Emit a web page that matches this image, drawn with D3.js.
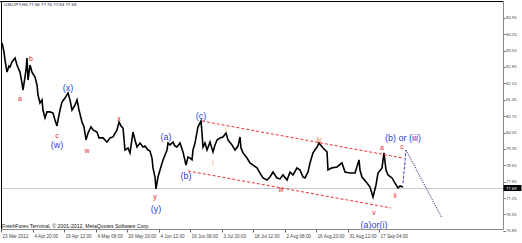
<!DOCTYPE html>
<html>
<head>
<meta charset="utf-8">
<script src="https://cdnjs.cloudflare.com/ajax/libs/d3/7.8.5/d3.min.js"></script>
<style>
  body { margin: 0; background: #fff; }
  svg { display: block; font-family: "Liberation Sans", Arial, sans-serif; }
</style>
</head>
<body>
<div id="chart"></div>
<script>
'use strict';

// H4 bar number counted from 23 Mar 2012, and the close
var bars = [2, 6, 8, 12, 16, 18, 22, 28, 32, 36, 38, 42, 44, 48, 50, 52, 54, 58, 62, 68,
  72, 74, 78, 82, 84, 88, 92, 98, 104, 108, 112, 114, 118, 122, 128, 134, 138, 142, 148, 152,
  156, 162, 166, 170, 174, 180, 184, 192, 196, 204, 212, 218, 224, 232, 236, 240, 244, 248, 254, 258,
  264, 268, 272, 278, 284, 288, 294, 298, 302, 304, 308, 310, 314, 318, 324, 328, 332, 334, 338, 344,
  348, 352, 358, 364, 370, 374, 378, 382, 384, 388, 392, 394, 400, 402, 404, 408, 412, 418, 424, 428,
  432, 438, 444, 450, 454, 462, 468, 474, 478, 480, 484, 492, 498, 504, 512, 518, 524, 532, 538, 544,
  552, 558, 564, 572, 578, 584, 592, 598, 604, 608, 614, 618, 624, 632, 636, 644, 652, 654, 662, 672,
  682, 688, 698, 708, 716, 718, 722, 732, 738, 744, 750, 754, 762, 766, 770, 774, 782, 788, 794, 798, 804];
var closes = [83.87, 83.49, 83.14, 82.63, 82.89, 82.85, 83.06, 83.23, 82.93, 82.72, 82.63, 82.16, 81.86, 82.42, 82.72, 83.23, 82.29, 82.93, 82.63, 82.42,
  82.08, 81.65, 81.31, 81.44, 81.01, 80.67, 80.93, 80.93, 80.88, 80.58, 80.33, 80.58, 81.01, 81.35, 81.52, 81.74, 81.44, 81.01, 81.22, 81.44,
  81.01, 80.50, 80.29, 79.73, 80.03, 80.29, 80.16, 80.07, 79.82, 79.82, 79.64, 79.82, 79.86, 80.16, 80.50, 80.33, 80.24, 79.30, 79.39, 79.18,
  80.07, 79.73, 79.43, 79.60, 79.43, 79.47, 79.30, 79.26, 78.96, 78.54, 78.15, 77.64, 78.15, 78.45, 78.88, 79.09, 79.30, 79.60, 79.52, 79.64,
  79.47, 79.43, 79.60, 79.22, 78.66, 79.00, 78.96, 78.88, 79.30, 79.60, 80.07, 80.29, 80.54, 80.03, 79.43, 79.60, 79.30, 79.64, 79.22, 79.52,
  79.73, 79.82, 79.86, 80.03, 79.73, 79.52, 79.30, 79.47, 79.86, 79.39, 79.18, 78.96, 78.75, 78.66, 78.54, 78.32, 78.11, 78.02, 78.15, 78.36,
  78.11, 78.07, 78.24, 78.02, 78.36, 78.24, 78.54, 78.45, 78.15, 78.11, 78.36, 78.75, 79.18, 79.43, 79.60, 79.39, 79.22, 78.45, 78.54, 78.58,
  78.75, 78.36, 78.32, 78.32, 78.88, 78.45, 78.15, 77.89, 77.72, 77.30, 77.81, 78.32, 78.54, 79.18, 78.45, 78.24, 78.11, 77.89, 77.68, 77.77, 77.72];

var timeLabels = ['23 Mar 2012', '4 Apr 20:00', '19 Apr 12:00', '4 May 08:00', '20 May 20:00', '4 Jun 12:00',
  '19 Jun 08:00', '3 Jul 20:00', '18 Jul 12:00', '2 Aug 08:00', '16 Aug 20:00', '31 Aug 12:00', '17 Sep 04:00'];
var timeLabelStep = 63; // bars between time labels

var priceTicks = [84.95, 84.25, 83.55, 82.85, 82.15, 81.45, 80.75, 80.05, 79.35, 78.65, 77.95, 77.25, 76.55, 75.85];
var lastPrice = 77.68;
var title = 'USDJPY,H4  77.66 77.76 77.64 77.68';
var copyright = 'FreshForex Terminal, \u00a9 2001-2012, MetaQuotes Software Corp.';

// trend channel and forecast, as [bar, price] pairs
var channelUpper = [[402, 80.54], [804, 78.96]];
var channelLower = [[374, 78.41], [780, 76.83]];
var forecastUp = [[804, 77.89], [810, 79.30]];
var forecastDown = [[810, 79.30], [882, 76.40]];

// wave marks: text, bar, price, kind
var waveText = ['b', 'a', '(x)', 'c', '(w)', 'w', 'x', '(a)', '(c)', '(b)', 'y', '(y)',
  'i', 'ii', 'iii', 'iv', 'a', '(b) or (iii)', 'c', 'ii', 'v', '(a)or(i)'];
var waveBar = [60, 38, 134, 112, 112, 172, 236, 330, 400, 370, 308, 310,
  424, 450, 560, 636, 762, 804, 802, 788, 746, 746];
var wavePrice = [83.19, 81.52, 81.95, 79.94, 79.52, 79.30, 80.63, 79.86, 80.75, 78.19, 77.30, 76.79,
  78.75, 80.20, 77.60, 79.77, 79.39, 79.82, 79.47, 77.38, 76.62, 76.10];
var waveKind = ['red', 'red', 'blue', 'red', 'blue', 'red', 'red', 'blue', 'blue', 'blue', 'red', 'blue',
  'minor', 'pale', 'red', 'orange', 'red', 'blue', 'red', 'red', 'red', 'blue'];

var width = 522,
  height = 243,
  plotLeft = 1.5,
  plotRight = 503.5,
  plotTop = 1.5,
  plotBottom = 229.5;

var kindStyle = {
  red: { color: '#e8182c', size: 7 },
  blue: { color: '#2f3be0', size: 9 },
  minor: { color: '#f0a070', size: 7 },
  pale: { color: '#e6c48a', size: 6 },
  orange: { color: '#e07a30', size: 7 }
};

var x = d3.scaleLinear().domain([0, 1004]).range([1, 503]);
var y = d3.scaleLinear().domain([75.85, 84.95]).range([230.9, 17.7]);

var svg = d3.select('#chart').append('svg')
  .attr('width', width)
  .attr('height', height);

svg.append('rect').attr('width', width).attr('height', height).attr('fill', '#fff');

// bid line
svg.append('line')
  .attr('x1', plotLeft).attr('x2', plotRight)
  .attr('y1', Math.round(y(lastPrice)) + 0.5).attr('y2', Math.round(y(lastPrice)) + 0.5)
  .attr('stroke', '#c4ced6').attr('stroke-width', 1);

// price
var pts = bars.map(function(b, i) { return [b, closes[i]]; });
var line = d3.line().x(function(d) { return x(d[0]); }).y(function(d) { return y(d[1]); });

svg.append('path')
  .datum(pts)
  .attr('d', line)
  .attr('fill', 'none')
  .attr('stroke', '#000')
  .attr('stroke-width', 1.6)
  .attr('stroke-linejoin', 'miter');

// channel
[channelUpper, channelLower].forEach(function(seg) {
  svg.append('path').datum(seg).attr('d', line)
    .attr('fill', 'none').attr('stroke', '#f03030').attr('stroke-width', 1)
    .attr('stroke-dasharray', '3,2');
});

svg.append('path').datum(forecastUp).attr('d', line)
  .attr('fill', 'none').attr('stroke', '#3b3bd0').attr('stroke-width', 1)
  .attr('stroke-dasharray', '3,1.5');
svg.append('path').datum(forecastDown).attr('d', line)
  .attr('fill', 'none').attr('stroke', '#2a2a88').attr('stroke-width', 1)
  .attr('stroke-dasharray', '1.2,1.2');

// wave labels
svg.selectAll('text.wave')
  .data(waveText)
  .enter()
  .append('text')
  .attr('class', 'wave')
  .attr('x', function(d, i) { return x(waveBar[i]); })
  .attr('y', function(d, i) { return y(wavePrice[i]); })
  .attr('text-anchor', 'middle')
  .attr('dominant-baseline', 'central')
  .attr('font-size', function(d, i) { return kindStyle[waveKind[i]].size; })
  .attr('fill', function(d, i) { return kindStyle[waveKind[i]].color; })
  .text(function(d) { return d; });

// frame
svg.append('line').attr('x1', 0).attr('x2', plotRight).attr('y1', plotTop).attr('y2', plotTop)
  .attr('stroke', '#000');
svg.append('line').attr('x1', plotLeft).attr('x2', plotLeft).attr('y1', plotTop).attr('y2', plotBottom)
  .attr('stroke', '#000');
svg.append('line').attr('x1', plotRight).attr('x2', plotRight).attr('y1', plotTop).attr('y2', plotBottom)
  .attr('stroke', '#8a8a8a');
svg.append('line').attr('x1', plotLeft).attr('x2', plotRight).attr('y1', plotBottom).attr('y2', plotBottom)
  .attr('stroke', '#8a8a8a');

// price scale
var yAxis = svg.append('g').attr('font-size', 4.2).attr('fill', '#444');
priceTicks.forEach(function(p) {
  yAxis.append('line')
    .attr('x1', plotRight).attr('x2', plotRight + 2)
    .attr('y1', Math.round(y(p)) + 0.5).attr('y2', Math.round(y(p)) + 0.5)
    .attr('stroke', '#666');
  yAxis.append('text')
    .attr('x', 506).attr('y', y(p))
    .attr('dominant-baseline', 'central')
    .text(p.toFixed(2));
});

svg.append('rect')
  .attr('x', plotRight).attr('y', y(lastPrice) - 3)
  .attr('width', 18).attr('height', 6)
  .attr('fill', '#000');
svg.append('text')
  .attr('x', 506).attr('y', y(lastPrice))
  .attr('dominant-baseline', 'central')
  .attr('font-size', 4.2).attr('fill', '#fff')
  .text(lastPrice.toFixed(2));

// time scale
var xAxis = svg.append('g').attr('font-size', 4.6).attr('fill', '#444');
timeLabels.forEach(function(t, i) {
  var px = Math.round(x(i * timeLabelStep)) + 0.5;
  xAxis.append('line')
    .attr('x1', px).attr('x2', px)
    .attr('y1', plotBottom).attr('y2', plotBottom + 3)
    .attr('stroke', '#666');
  xAxis.append('text')
    .attr('x', px + 1).attr('y', 236)
    .attr('dominant-baseline', 'central')
    .text(t);
});

svg.append('text')
  .attr('x', 4).attr('y', 6)
  .attr('font-size', 4.4).attr('fill', '#1c1c40')
  .text(title);

svg.append('text')
  .attr('x', 2).attr('y', 227.5)
  .attr('font-size', 5.2).attr('fill', '#111')
  .text(copyright);
</script>
</body>
</html>
